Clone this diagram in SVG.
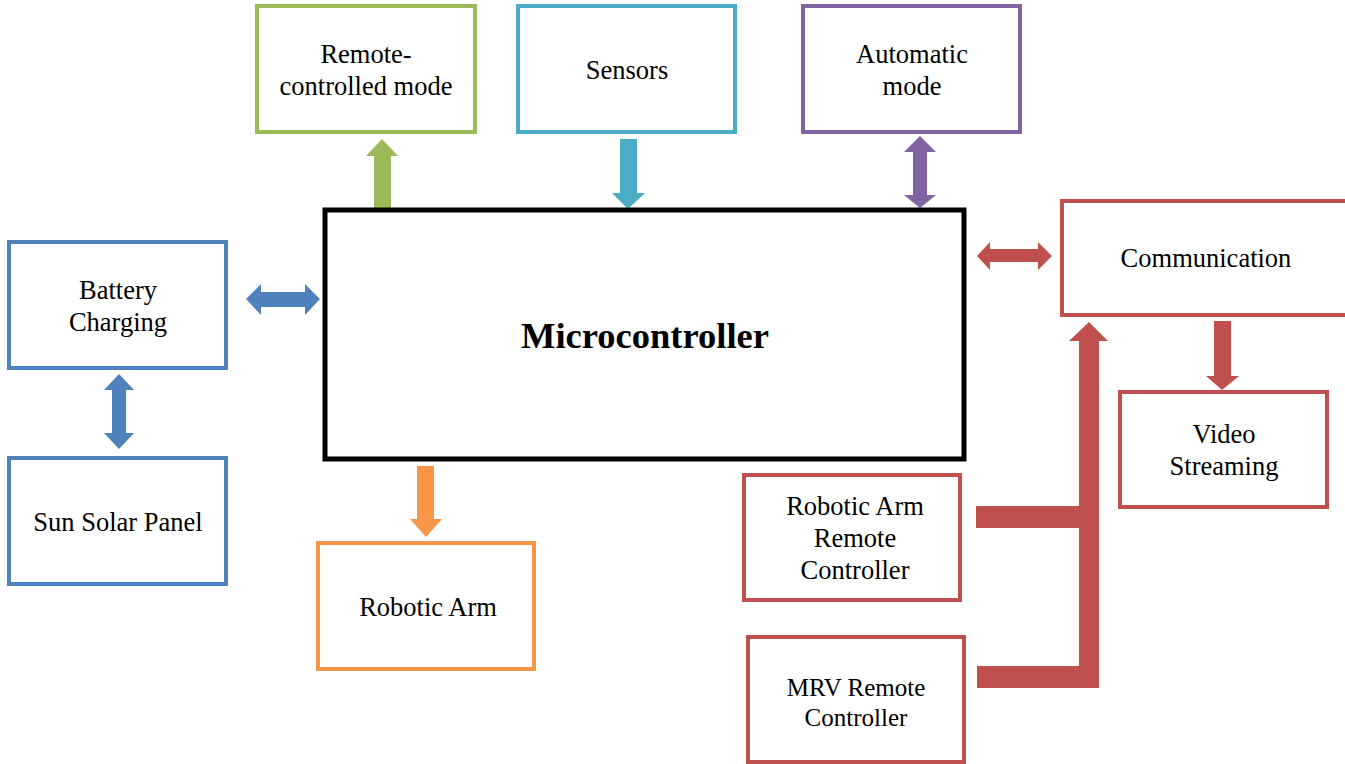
<svg xmlns="http://www.w3.org/2000/svg" width="1345" height="764" viewBox="0 0 1345 764">
<style>
.box{fill:#fff;stroke-width:4}
.t{font-family:"Liberation Serif","Times New Roman",serif;font-size:26.5px;fill:#000;text-anchor:middle}
.g{stroke:#9BBB59}.c{stroke:#4BACC6}.p{stroke:#8064A2}.b{stroke:#4F81BD}.o{stroke:#F79646}.r{stroke:#C0504D}
</style>
<rect width="1345" height="764" fill="#fff"/>
<g id="connectors">
<polygon fill="#9BBB59" points="374,209 374,156 366,156 382,139 398,156 391,156 391,209"/>
<polygon fill="#4BACC6" points="620,139 637,139 637,193 645,193 628,209 612,193 620,193"/>
<polygon fill="#8064A2" points="920,136 936,152 927,152 927,195 936,195 920,208 904,195 913,195 913,152 904,152"/>
<polygon fill="#C0504D" points="977,256 990,242 990,249 1038,249 1038,242 1052,256 1038,270 1038,262 990,262 990,270"/>
<polygon fill="#4F81BD" points="246,299 261,284 261,292 305,292 305,284 320,299 305,315 305,307 261,307 261,315"/>
<polygon fill="#4F81BD" points="119,374 134,390 126,390 126,433 134,433 119,449 104,433 112,433 112,390 104,390"/>
<polygon fill="#F79646" points="417,466 434,466 434,519 442,519 426,537 410,519 417,519"/>
<polygon fill="#C0504D" points="1214,321 1231,321 1231,376 1239,376 1222,390 1206,376 1214,376"/>
<polygon fill="#C0504D" points="1089,322 1108,341 1099,341 1099,688 977,688 977,666 1079,666 1079,528 976,528 976,506 1079,506 1079,341 1069,341"/>
</g>
<g id="microcontroller">
<rect x="325" y="210" width="639" height="249" fill="#fff" stroke="#000" stroke-width="5"/>
<text x="645" y="348" class="t" style="font-size:36.5px;font-weight:bold">Microcontroller</text>
</g>
<g id="remote-controlled-mode">
<rect class="box g" x="257" y="6" width="218" height="126"/>
<text class="t" x="366" y="63">Remote-</text>
<text class="t" x="366" y="95">controlled mode</text>
</g>
<g id="sensors">
<rect class="box c" x="518" y="6" width="217" height="126"/>
<text class="t" x="627" y="79">Sensors</text>
</g>
<g id="automatic-mode">
<rect class="box p" x="803" y="6" width="217" height="126"/>
<text class="t" x="912" y="63">Automatic</text>
<text class="t" x="912" y="95">mode</text>
</g>
<g id="battery-charging">
<rect class="box b" x="9" y="242" width="217" height="126"/>
<text class="t" x="118" y="299">Battery</text>
<text class="t" x="118" y="331">Charging</text>
</g>
<g id="sun-solar-panel">
<rect class="box b" x="9" y="458" width="217" height="126"/>
<text class="t" x="118" y="531">Sun Solar Panel</text>
</g>
<g id="robotic-arm">
<rect class="box o" x="318" y="543" width="216" height="126"/>
<text class="t" x="428" y="616">Robotic Arm</text>
</g>
<g id="communication">
<rect class="box r" x="1062" y="201" width="290" height="114"/>
<text class="t" x="1206" y="267">Communication</text>
</g>
<g id="video-streaming">
<rect class="box r" x="1120" y="392" width="207" height="115"/>
<text class="t" x="1224" y="443">Video</text>
<text class="t" x="1224" y="475">Streaming</text>
</g>
<g id="robotic-arm-remote-controller">
<rect class="box r" x="744" y="475" width="216" height="125"/>
<text class="t" x="855" y="515">Robotic Arm</text>
<text class="t" x="855" y="547">Remote</text>
<text class="t" x="855" y="579">Controller</text>
</g>
<g id="mrv-remote-controller">
<rect class="box r" x="748" y="637" width="216" height="125"/>
<text class="t" x="856" y="696" style="font-size:25px">MRV Remote</text>
<text class="t" x="856" y="726" style="font-size:25px">Controller</text>
</g>
</svg>
